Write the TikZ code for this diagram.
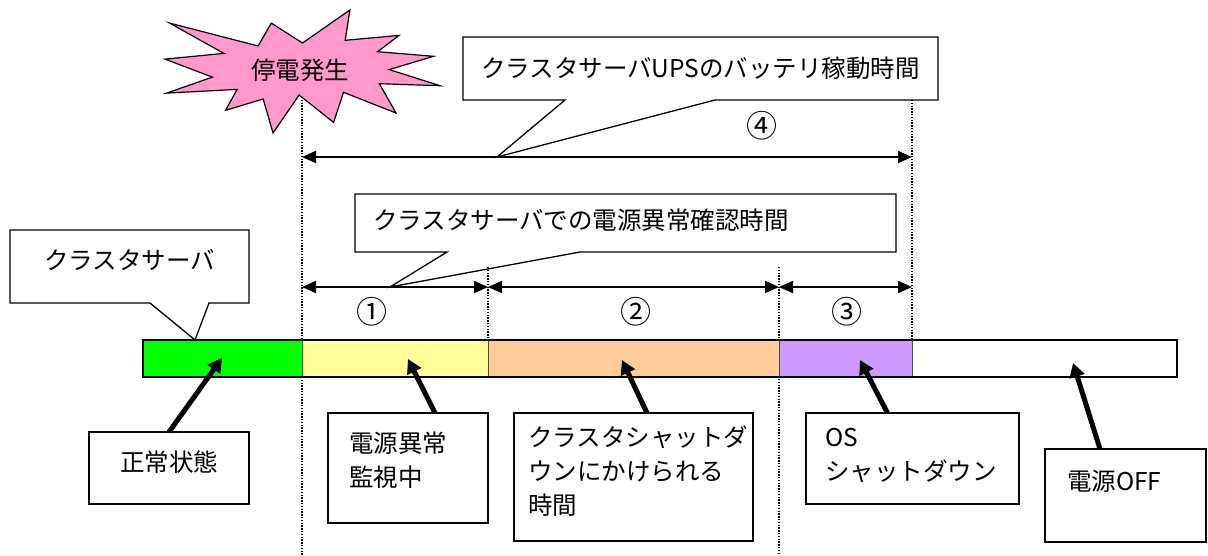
\documentclass[tikz,border=0pt]{standalone}
\usepackage{fontspec}
\newfontfamily\jpsans{Noto Sans CJK JP}
\usetikzlibrary{positioning,arrows.meta}

\definecolor{barGreen}{RGB}{0,255,0}
\definecolor{barYellow}{RGB}{255,255,153}
\definecolor{barOrange}{RGB}{255,204,153}
\definecolor{barPurple}{RGB}{204,153,255}
\definecolor{burstPink}{RGB}{255,153,204}

\begin{document}
\begin{tikzpicture}[
  x=1pt, y=-1pt,
  font=\jpsans\fontsize{24.5}{34}\selectfont,
  seg/.style={draw=black!70, line width=0.8pt, minimum height=37pt, inner sep=0pt, outer sep=0pt, anchor=north west},
  tbox/.style={draw=black, line width=1.3pt, anchor=north west, align=left, inner ysep=0pt, outer sep=0pt},
  callout/.style={anchor=north west, align=left, inner ysep=0pt, outer sep=0pt},
  cline/.style={draw=black, line width=1.3pt},
  num/.style={font=\jpsans\fontsize{31}{34}\selectfont},
  dim/.style={{Triangle[length=14pt,width=12pt]}-{Triangle[length=14pt,width=12pt]}, line width=1.8pt},
  fat/.style={-{Triangle[length=14pt,width=15pt]}, line width=5pt},
  vline/.style={line width=1.1pt, dash pattern=on 1.4pt off 1.4pt}
]
\useasboundingbox (0,0) rectangle (1208,555);

% power failure burst
\draw[line width=1.2pt, fill=burstPink] (302.5,43) -- (349.9,10) -- (345.2,40.3) -- (399,35.4)
  -- (377.6,51.7) -- (433.6,56.3) -- (389.2,69.6) -- (440,85.7) -- (379.4,83.7) -- (396,113)
  -- (343.5,92.3) -- (333.6,122.4) -- (299.1,95) -- (273,133) -- (263.2,99) -- (225.6,110.3)
  -- (237.1,89.4) -- (166.7,93.1) -- (212.4,77.1) -- (165,59.1) -- (223.9,53.4) -- (169.7,23.1)
  -- (258.1,46) -- (271.3,23.1) -- cycle;
\node (outage) at (300,70) {停電発生};

% time marks
\coordinate (d0) at (302,287);
\coordinate (d1) at (488,287);
\coordinate (d2) at (779,287);
\coordinate (d3) at (912,287);
\coordinate (u0) at (302,157);
\coordinate (u3) at (912,157);
\draw[vline] (302,97) -- (302,555);
\draw[vline] (488,267) -- (488,340);
\draw[vline] (779,267) -- (779,555);
\draw[vline] (912,100) -- (912,340);

% durations
\draw[dim] (u0) -- (u3);
\draw[dim] (d0) -- (d1);
\draw[dim] (d1) -- (d2);
\draw[dim] (d2) -- (d3);
\node[num] (n1) at (372,312) {①};
\node[num] (n2) at (636,312) {②};
\node[num] (n3) at (847,312) {③};
\node[num] (n4) at (762,126) {④};

% callouts
\node[callout, inner xsep=18pt, text width=439pt, text height=40.3pt, text depth=22.7pt] (ups) at (463,37) {クラスタサーバUPSのバッテリ稼動時間};
\coordinate (upstip) at (497,157);
\draw[cline] (ups.north west) -- (ups.north east) -- (ups.south east) -- ([xshift=252pt]ups.south west)
  -- (upstip) -- ([xshift=102pt]ups.south west) -- (ups.south west) -- cycle;

\node[callout, inner xsep=18pt, text width=505pt, text height=35.3pt, text depth=22.7pt] (check) at (355,194) {クラスタサーバでの電源異常確認時間};
\coordinate (checktip) at (390,287);
\draw[cline] (check.north west) -- (check.north east) -- (check.south east) -- ([xshift=225pt]check.south west)
  -- (checktip) -- ([xshift=92pt]check.south west) -- (check.south west) -- cycle;

\node[callout, align=center, inner xsep=0pt, text width=239pt, text height=39.3pt, text depth=33.7pt] (server) at (10,230) {クラスタサーバ};
\coordinate (servertip) at (195,340);
\draw[cline] (server.north west) -- (server.north east) -- (server.south east) -- ([xshift=199pt]server.south west)
  -- (servertip) -- ([xshift=140pt]server.south west) -- (server.south west) -- cycle;

% state bar
\node[seg, fill=barGreen, minimum width=159pt] (sgreen) at (143,340) {};
\node[seg, fill=barYellow, minimum width=186pt] (syellow) at (sgreen.north east) {};
\node[seg, fill=barOrange, minimum width=291pt] (sorange) at (syellow.north east) {};
\node[seg, fill=barPurple, minimum width=133pt] (spurple) at (sorange.north east) {};
\node[seg, fill=white, minimum width=265pt] (swhite) at (spurple.north east) {};
\draw[line width=1.3pt] (sgreen.north west) rectangle (swhite.south east);
\draw[line width=2.4pt] (sgreen.south west) -- (swhite.south east);

% state boxes
\node[tbox, align=center, inner xsep=0pt, text width=160pt, text height=39.3pt, text depth=32.7pt] (normal) at (89,432) {正常状態};
\node[tbox, inner xsep=21pt, text width=118pt, text height=39.3pt, text depth=70.7pt] (monitor) at (328,413) {電源異常\\監視中};
\node[tbox, inner xsep=14pt, text width=211pt, text height=33.3pt, text depth=94.7pt] (csd) at (514,413) {クラスタシャットダ\\ウンにかけられる\\時間};
\node[tbox, inner xsep=19pt, text width=175pt, text height=33pt, text depth=58pt] (os) at (806,413) {OS\\シャットダウン};
\node[tbox, inner xsep=22pt, text width=117pt, text height=41.3pt, text depth=51.7pt] (off) at (1045,449) {電源OFF};

\coordinate (pnormal) at (222,358);
\coordinate (pmonitor) at (408,359);
\coordinate (pcsd) at (622,360);
\coordinate (pos) at (860,360);
\coordinate (poff) at (1073,363);
\draw[fat] (normal.north) -- (pnormal);
\draw[fat] ([xshift=27pt]monitor.north) -- (pmonitor);
\draw[fat] ([xshift=13.5pt]csd.north) -- (pcsd);
\draw[fat] ([xshift=-25pt]os.north) -- (pos);
\draw[fat] ([xshift=-25.5pt]off.north) -- (poff);
\end{tikzpicture}
\end{document}
